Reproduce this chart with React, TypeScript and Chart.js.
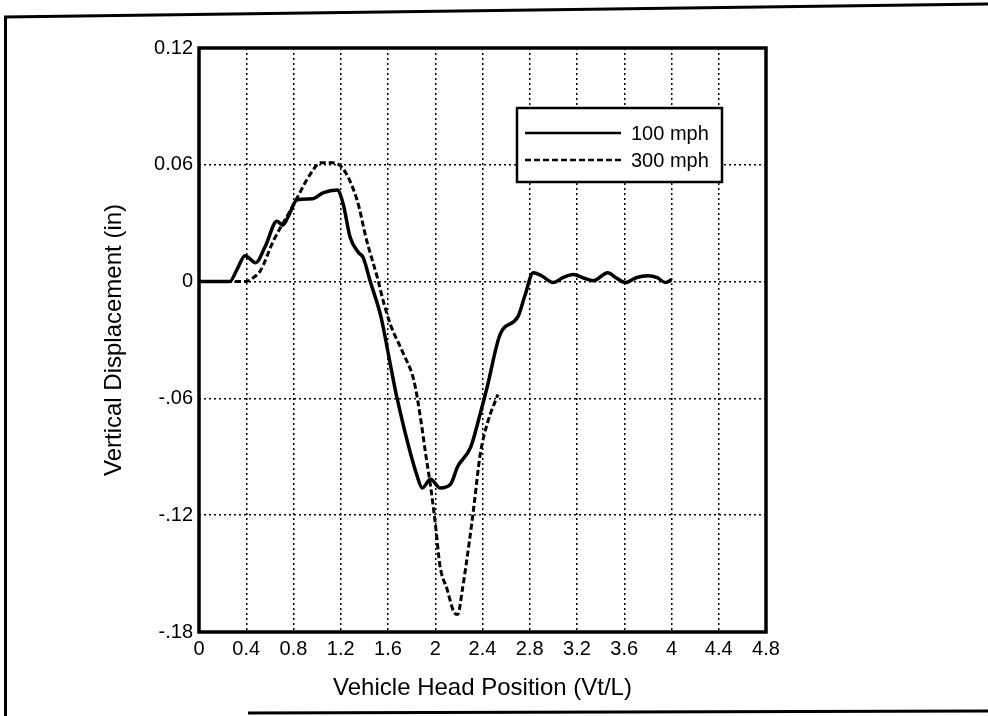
import React, { useEffect, useRef } from 'react';
import { Chart, registerables } from 'chart.js';

Chart.register(...registerables);

// ---- Data ----
const seriesNames = ['100 mph', '300 mph'];

const x100 = [0, 0.26, 0.32, 0.39, 0.48, 0.56, 0.66, 0.71, 0.76, 0.83, 0.96, 1.05, 1.17, 1.22, 1.28, 1.35, 1.39, 1.45, 1.54, 1.62, 1.67, 1.85, 1.89, 1.96, 2.04, 2.13, 2.19, 2.3, 2.38, 2.44, 2.55, 2.7, 2.76, 2.83, 2.9, 3.0, 3.08, 3.17, 3.25, 3.34, 3.46, 3.53, 3.61, 3.7, 3.8, 3.88, 3.95, 4.0];
const y100 = [0, 0, 0.006, 0.0133, 0.0097, 0.018, 0.031, 0.029, 0.034, 0.042, 0.0425, 0.0456, 0.047, 0.04, 0.0226, 0.015, 0.0123, 0.0, -0.018, -0.0426, -0.058, -0.1005, -0.106, -0.1015, -0.106, -0.104, -0.095, -0.085, -0.068, -0.054, -0.027, -0.018, -0.007, 0.0046, 0.003, -0.0005, 0.002, 0.0036, 0.002, 0.0005, 0.0046, 0.002, -0.0005, 0.002, 0.003, 0.002, -0.0005, 0.001];

const x300 = [0, 0.4, 0.46, 0.52, 0.63, 0.75, 0.83, 0.94, 1.03, 1.13, 1.22, 1.34, 1.42, 1.51, 1.56, 1.62, 1.73, 1.82, 1.87, 1.92, 1.96, 2.0, 2.04, 2.1, 2.16, 2.19, 2.23, 2.29, 2.33, 2.38, 2.44, 2.53];
const y300 = [0, 0, 0.002, 0.0056, 0.021, 0.034, 0.043, 0.055, 0.061, 0.061, 0.058, 0.0415, 0.021, 0.002, -0.01, -0.022, -0.037, -0.051, -0.068, -0.089, -0.105, -0.124, -0.146, -0.158, -0.17, -0.171, -0.158, -0.133, -0.114, -0.089, -0.073, -0.058];

const xTickValues = [0, 0.4, 0.8, 1.2, 1.6, 2, 2.4, 2.8, 3.2, 3.6, 4, 4.4, 4.8];
const xTickLabels = ['0', '0.4', '0.8', '1.2', '1.6', '2', '2.4', '2.8', '3.2', '3.6', '4', '4.4', '4.8'];
const yTickValues = [-0.18, -0.12, -0.06, 0, 0.06, 0.12];
const yTickLabels = ['-.18', '-.12', '-.06', '0', '0.06', '0.12'];

const xTitle = 'Vehicle Head Position (Vt/L)';
const yTitle = 'Vertical Displacement (in)';

const FONT = '"Liberation Sans", Arial, Helvetica, sans-serif';

const decorPlugin = {
  id: 'decor',
  beforeDraw(chart: any) {
    const ctx = chart.ctx;
    ctx.save();
    ctx.fillStyle = '#fff';
    ctx.fillRect(0, 0, chart.width, chart.height);
    ctx.strokeStyle = '#000';
    ctx.lineWidth = 3;
    ctx.beginPath();
    ctx.moveTo(4, 17);
    ctx.lineTo(988, 4);
    ctx.stroke();
    ctx.beginPath();
    ctx.moveTo(5.5, 16);
    ctx.lineTo(5.5, 716);
    ctx.stroke();
    ctx.beginPath();
    ctx.moveTo(248, 713);
    ctx.lineTo(988, 711);
    ctx.stroke();
    ctx.restore();
  },
  afterDraw(chart: any) {
    const { ctx, chartArea: a } = chart;
    ctx.save();
    ctx.strokeStyle = '#000';
    ctx.lineWidth = 3.5;
    ctx.strokeRect(a.left, a.top, a.right - a.left, a.bottom - a.top);

    // legend box
    const bx = a.left + 318;
    const by = a.top + 60;
    const bw = 205;
    const bh = 74;
    ctx.fillStyle = '#fff';
    ctx.fillRect(bx, by, bw, bh);
    ctx.lineWidth = 2.5;
    ctx.strokeRect(bx, by, bw, bh);

    const dsets = chart.data.datasets;
    const rows = [25, 52];
    ctx.font = `20px ${FONT}`;
    ctx.fillStyle = '#000';
    ctx.textBaseline = 'middle';
    ctx.textAlign = 'left';
    dsets.forEach((ds: any, i: number) => {
      const y = by + rows[i];
      ctx.beginPath();
      ctx.lineWidth = 2.5;
      ctx.setLineDash(ds.borderDash || []);
      ctx.moveTo(bx + 8, y);
      ctx.lineTo(bx + 104, y);
      ctx.stroke();
      ctx.setLineDash([]);
      ctx.fillText(ds.label, bx + 114, y + 1);
    });
    ctx.restore();
  },
};

export default function App() {
  const ref = useRef<HTMLCanvasElement | null>(null);

  useEffect(() => {
    if (!ref.current) return;
    const chart = new Chart(ref.current, {
      type: 'line',
      data: {
        datasets: [
          {
            label: seriesNames[0],
            data: x100.map((x, i) => ({ x, y: y100[i] })),
            borderColor: '#000',
            borderWidth: 3.5,
            pointRadius: 0,
            fill: false,
            cubicInterpolationMode: 'monotone',
          },
          {
            label: seriesNames[1],
            data: x300.map((x, i) => ({ x, y: y300[i] })),
            borderColor: '#000',
            borderWidth: 3,
            borderDash: [6, 3],
            pointRadius: 0,
            fill: false,
            cubicInterpolationMode: 'monotone',
          },
        ],
      },
      options: {
        animation: false,
        responsive: false,
        maintainAspectRatio: false,
        layout: { padding: { left: 0, top: 48, right: 222, bottom: 0 } },
        plugins: {
          legend: { display: false },
          tooltip: { enabled: false },
        },
        scales: {
          x: {
            type: 'linear',
            min: 0,
            max: 4.8,
            afterBuildTicks: (s: any) => {
              s.ticks = xTickValues.map((v) => ({ value: v }));
            },
            afterFit: (s: any) => {
              s.height = 84;
              s.paddingLeft = 0;
              s.paddingRight = 0;
            },
            grid: { color: '#000', lineWidth: 1.5, drawTicks: false },
            border: { display: false, dash: [2, 3] },
            ticks: {
              color: '#000',
              padding: 5,
              maxRotation: 0,
              autoSkip: false,
              font: { family: FONT, size: 20 },
              callback: (_v: any, i: number) => xTickLabels[i],
            },
            title: {
              display: true,
              text: xTitle,
              color: '#000',
              font: { family: FONT, size: 24 },
              padding: { top: 0, bottom: 13 },
            },
          },
          y: {
            type: 'linear',
            min: -0.18,
            max: 0.12,
            afterBuildTicks: (s: any) => {
              s.ticks = yTickValues.map((v) => ({ value: v }));
            },
            afterFit: (s: any) => {
              s.width = 199;
              s.paddingTop = 0;
              s.paddingBottom = 0;
            },
            grid: { color: '#000', lineWidth: 1.5, drawTicks: false },
            border: { display: false, dash: [2, 3] },
            ticks: {
              color: '#000',
              padding: 6,
              autoSkip: false,
              font: { family: FONT, size: 20 },
              callback: (_v: any, i: number) => yTickLabels[i],
            },
            title: {
              display: true,
              text: yTitle,
              color: '#000',
              font: { family: FONT, size: 24 },
              padding: { top: 100, bottom: 0 },
            },
          },
        },
      },
      plugins: [decorPlugin],
    } as any);
    return () => chart.destroy();
  }, []);

  return (
    <div style={{ position: 'absolute', left: 0, top: 0, width: 988, height: 716, background: '#fff' }}>
      <canvas ref={ref} width={988} height={716} style={{ display: 'block', width: 988, height: 716 }} />
    </div>
  );
}
